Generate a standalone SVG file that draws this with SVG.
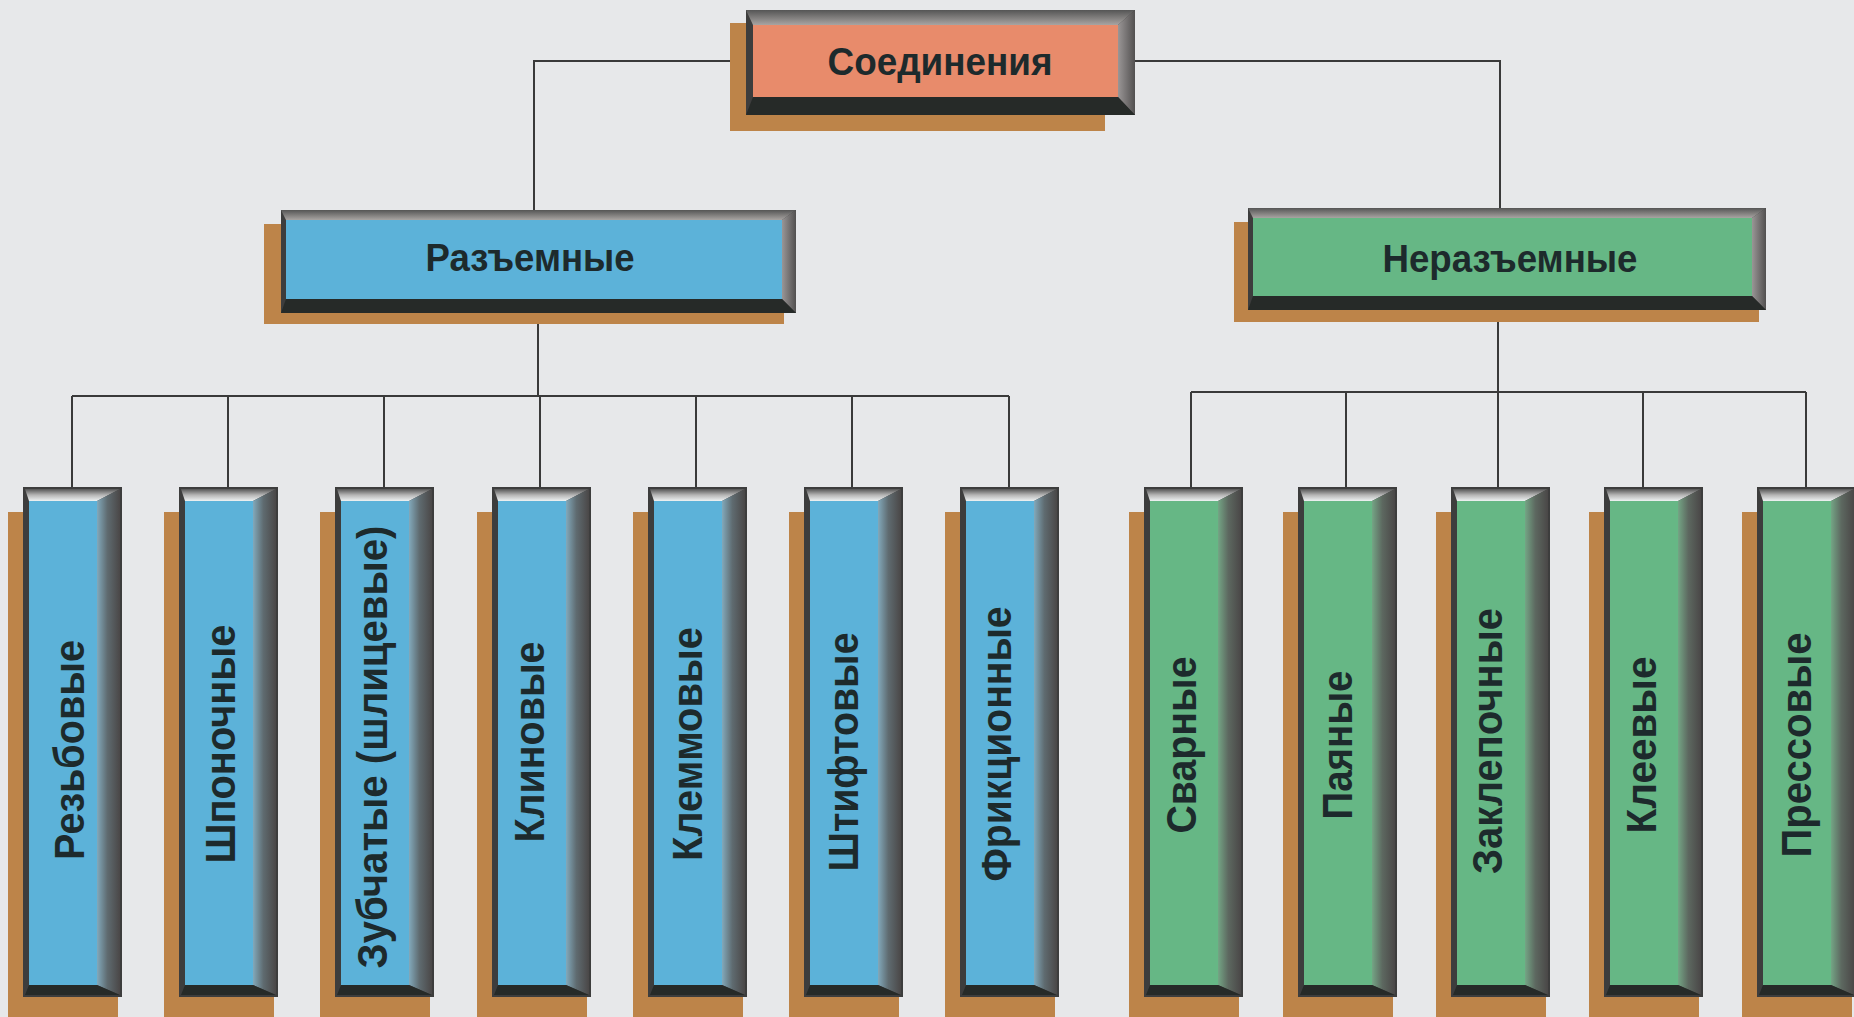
<svg xmlns="http://www.w3.org/2000/svg" width="1854" height="1017" viewBox="0 0 1854 1017">
<style>
.bg{fill:#e7e8ea}
.sh{fill:#bd8449}
.outer{fill:#3d3d3d}
.bot{fill:#262a28}
.fb{fill:#5cb2d9}
.fg{fill:#66b785}
.fo{fill:#e88b6b}
.tb{fill:url(#gTop)}
.rb{fill:url(#gRB)}
.rg{fill:url(#gRG)}
.rh{fill:url(#gRH)}
.th{fill:url(#gTH)}
.lbl{font-family:"Liberation Sans",Arial,sans-serif;font-weight:bold;fill:#1d2a2c;font-size:42px}
.hl{font-family:"Liberation Sans",Arial,sans-serif;font-weight:bold;fill:#1d2a2c;font-size:38px}
.conn{stroke:#3a3a3a;stroke-width:2;fill:none}
</style>
<defs>
<linearGradient id="gTop" x1="0" y1="0" x2="0" y2="1">
<stop offset="0" stop-color="#555"/><stop offset="0.5" stop-color="#b5b5b5"/><stop offset="1" stop-color="#eef2f3"/>
</linearGradient>
<linearGradient id="gTH" x1="0" y1="0" x2="0" y2="1">
<stop offset="0" stop-color="#555"/><stop offset="1" stop-color="#a8a4a2"/>
</linearGradient>
<linearGradient id="gRB" x1="0" y1="0" x2="1" y2="0">
<stop offset="0" stop-color="#82a9bb"/><stop offset="0.45" stop-color="#5f6b70"/><stop offset="1" stop-color="#4a4747"/>
</linearGradient>
<linearGradient id="gRG" x1="0" y1="0" x2="1" y2="0">
<stop offset="0" stop-color="#74a585"/><stop offset="0.45" stop-color="#5d6860"/><stop offset="1" stop-color="#4a4747"/>
</linearGradient>
<linearGradient id="gRH" x1="0" y1="0" x2="1" y2="0">
<stop offset="0" stop-color="#9a9696"/><stop offset="1" stop-color="#525050"/>
</linearGradient>
</defs>
<rect class="bg" x="0" y="0" width="1854" height="1017"/>

<g id="connectors">
<polyline class="conn" points="534,210 534,61 1500,61 1500,208"/>
<line class="conn" x1="538" y1="313" x2="538" y2="396"/>
<line class="conn" x1="72" y1="396" x2="1009" y2="396"/>
<line class="conn" x1="72" y1="396" x2="72" y2="488"/>
<line class="conn" x1="228" y1="396" x2="228" y2="488"/>
<line class="conn" x1="384" y1="396" x2="384" y2="488"/>
<line class="conn" x1="540" y1="396" x2="540" y2="488"/>
<line class="conn" x1="696" y1="396" x2="696" y2="488"/>
<line class="conn" x1="852" y1="396" x2="852" y2="488"/>
<line class="conn" x1="1009" y1="396" x2="1009" y2="488"/>
<line class="conn" x1="1498" y1="310" x2="1498" y2="392"/>
<line class="conn" x1="1191" y1="392" x2="1806" y2="392"/>
<line class="conn" x1="1191" y1="392" x2="1191" y2="488"/>
<line class="conn" x1="1346" y1="392" x2="1346" y2="488"/>
<line class="conn" x1="1498" y1="392" x2="1498" y2="488"/>
<line class="conn" x1="1643" y1="392" x2="1643" y2="488"/>
<line class="conn" x1="1806" y1="392" x2="1806" y2="488"/>
</g>

<g id="n-soed">
<rect class="sh" x="730" y="23" width="375" height="108"/>
<rect class="outer" x="746" y="10" width="389" height="105"/>
<polygon class="th" points="746,10 1135,10 1118,25 753,25"/>
<polygon class="rh" points="1118,25 1135,10 1135,115 1118,97"/>
<polygon class="bot" points="753,97 1118,97 1135,115 746,115"/>
<rect class="fo" x="753" y="25" width="365" height="72"/>
<text class="hl" x="940" y="75" text-anchor="middle" textLength="225" lengthAdjust="spacingAndGlyphs">Соединения</text>
</g>

<g id="n-razem">
<rect class="sh" x="264" y="224" width="520" height="100"/>
<rect class="outer" x="281" y="210" width="515" height="103"/>
<polygon class="th" points="281,210 796,210 782,220 286,220"/>
<polygon class="rh" points="782,220 796,210 796,313 782,299"/>
<polygon class="bot" points="286,299 782,299 796,313 281,313"/>
<rect class="fb" x="286" y="220" width="496" height="79"/>
<text class="hl" x="530" y="271" text-anchor="middle" textLength="209" lengthAdjust="spacingAndGlyphs">Разъемные</text>
</g>

<g id="n-nerazem">
<rect class="sh" x="1234" y="222" width="525" height="100"/>
<rect class="outer" x="1248" y="208" width="518" height="102"/>
<polygon class="th" points="1248,208 1766,208 1752,218 1253,218"/>
<polygon class="rh" points="1752,218 1766,208 1766,310 1752,296"/>
<polygon class="bot" points="1253,296 1752,296 1766,310 1248,310"/>
<rect class="fg" x="1253" y="218" width="499" height="78"/>
<text class="hl" x="1510" y="272" text-anchor="middle" textLength="255" lengthAdjust="spacingAndGlyphs">Неразъемные</text>
</g>

<g id="n-rezb" transform="translate(23,0)">
<rect class="sh" x="-15" y="512" width="110" height="520"/>
<rect class="outer" x="0" y="487" width="99" height="510"/>
<polygon class="tb" points="2,489 97,489 74,501 6,501"/>
<polygon class="rb" points="74,501 97,489 97,995 74,985"/>
<polygon class="bot" points="6,985 74,985 97,995 2,995"/>
<rect class="fb" x="6" y="501" width="68" height="484"/>
<text class="lbl" transform="translate(61,750) rotate(-90)" text-anchor="middle" textLength="220" lengthAdjust="spacingAndGlyphs">Резьбовые</text>
</g>

<g id="n-shpon" transform="translate(179,0)">
<rect class="sh" x="-15" y="512" width="110" height="520"/>
<rect class="outer" x="0" y="487" width="99" height="510"/>
<polygon class="tb" points="2,489 97,489 74,501 6,501"/>
<polygon class="rb" points="74,501 97,489 97,995 74,985"/>
<polygon class="bot" points="6,985 74,985 97,995 2,995"/>
<rect class="fb" x="6" y="501" width="68" height="484"/>
<text class="lbl" transform="translate(56,744) rotate(-90)" text-anchor="middle" textLength="239" lengthAdjust="spacingAndGlyphs">Шпоночные</text>
</g>

<g id="n-zub" transform="translate(335,0)">
<rect class="sh" x="-15" y="512" width="110" height="520"/>
<rect class="outer" x="0" y="487" width="99" height="510"/>
<polygon class="tb" points="2,489 97,489 74,501 6,501"/>
<polygon class="rb" points="74,501 97,489 97,995 74,985"/>
<polygon class="bot" points="6,985 74,985 97,995 2,995"/>
<rect class="fb" x="6" y="501" width="68" height="484"/>
<text class="lbl" transform="translate(52,747) rotate(-90)" text-anchor="middle" textLength="443" lengthAdjust="spacingAndGlyphs">Зубчатые (шлицевые)</text>
</g>

<g id="n-klin" transform="translate(492,0)">
<rect class="sh" x="-15" y="512" width="110" height="520"/>
<rect class="outer" x="0" y="487" width="99" height="510"/>
<polygon class="tb" points="2,489 97,489 74,501 6,501"/>
<polygon class="rb" points="74,501 97,489 97,995 74,985"/>
<polygon class="bot" points="6,985 74,985 97,995 2,995"/>
<rect class="fb" x="6" y="501" width="68" height="484"/>
<text class="lbl" transform="translate(52,742) rotate(-90)" text-anchor="middle" textLength="201" lengthAdjust="spacingAndGlyphs">Клиновые</text>
</g>

<g id="n-klem" transform="translate(648,0)">
<rect class="sh" x="-15" y="512" width="110" height="520"/>
<rect class="outer" x="0" y="487" width="99" height="510"/>
<polygon class="tb" points="2,489 97,489 74,501 6,501"/>
<polygon class="rb" points="74,501 97,489 97,995 74,985"/>
<polygon class="bot" points="6,985 74,985 97,995 2,995"/>
<rect class="fb" x="6" y="501" width="68" height="484"/>
<text class="lbl" transform="translate(54,744) rotate(-90)" text-anchor="middle" textLength="234" lengthAdjust="spacingAndGlyphs">Клеммовые</text>
</g>

<g id="n-shtift" transform="translate(804,0)">
<rect class="sh" x="-15" y="512" width="110" height="520"/>
<rect class="outer" x="0" y="487" width="99" height="510"/>
<polygon class="tb" points="2,489 97,489 74,501 6,501"/>
<polygon class="rb" points="74,501 97,489 97,995 74,985"/>
<polygon class="bot" points="6,985 74,985 97,995 2,995"/>
<rect class="fb" x="6" y="501" width="68" height="484"/>
<text class="lbl" transform="translate(54,752) rotate(-90)" text-anchor="middle" textLength="239" lengthAdjust="spacingAndGlyphs">Штифтовые</text>
</g>

<g id="n-frik" transform="translate(960,0)">
<rect class="sh" x="-15" y="512" width="110" height="520"/>
<rect class="outer" x="0" y="487" width="99" height="510"/>
<polygon class="tb" points="2,489 97,489 74,501 6,501"/>
<polygon class="rb" points="74,501 97,489 97,995 74,985"/>
<polygon class="bot" points="6,985 74,985 97,995 2,995"/>
<rect class="fb" x="6" y="501" width="68" height="484"/>
<text class="lbl" transform="translate(51,744) rotate(-90)" text-anchor="middle" textLength="275" lengthAdjust="spacingAndGlyphs">Фрикционные</text>
</g>

<g id="n-svar" transform="translate(1144,0)">
<rect class="sh" x="-15" y="512" width="110" height="520"/>
<rect class="outer" x="0" y="487" width="99" height="510"/>
<polygon class="tb" points="2,489 97,489 74,501 6,501"/>
<polygon class="rg" points="74,501 97,489 97,995 74,985"/>
<polygon class="bot" points="6,985 74,985 97,995 2,995"/>
<rect class="fg" x="6" y="501" width="68" height="484"/>
<text class="lbl" transform="translate(52,745) rotate(-90)" text-anchor="middle" textLength="177" lengthAdjust="spacingAndGlyphs">Сварные</text>
</g>

<g id="n-payan" transform="translate(1298,0)">
<rect class="sh" x="-15" y="512" width="110" height="520"/>
<rect class="outer" x="0" y="487" width="99" height="510"/>
<polygon class="tb" points="2,489 97,489 74,501 6,501"/>
<polygon class="rg" points="74,501 97,489 97,995 74,985"/>
<polygon class="bot" points="6,985 74,985 97,995 2,995"/>
<rect class="fg" x="6" y="501" width="68" height="484"/>
<text class="lbl" transform="translate(54,745) rotate(-90)" text-anchor="middle" textLength="149" lengthAdjust="spacingAndGlyphs">Паяные</text>
</g>

<g id="n-zaklep" transform="translate(1451,0)">
<rect class="sh" x="-15" y="512" width="110" height="520"/>
<rect class="outer" x="0" y="487" width="99" height="510"/>
<polygon class="tb" points="2,489 97,489 74,501 6,501"/>
<polygon class="rg" points="74,501 97,489 97,995 74,985"/>
<polygon class="bot" points="6,985 74,985 97,995 2,995"/>
<rect class="fg" x="6" y="501" width="68" height="484"/>
<text class="lbl" transform="translate(51,741) rotate(-90)" text-anchor="middle" textLength="266" lengthAdjust="spacingAndGlyphs">Заклепочные</text>
</g>

<g id="n-kleev" transform="translate(1604,0)">
<rect class="sh" x="-15" y="512" width="110" height="520"/>
<rect class="outer" x="0" y="487" width="99" height="510"/>
<polygon class="tb" points="2,489 97,489 74,501 6,501"/>
<polygon class="rg" points="74,501 97,489 97,995 74,985"/>
<polygon class="bot" points="6,985 74,985 97,995 2,995"/>
<rect class="fg" x="6" y="501" width="68" height="484"/>
<text class="lbl" transform="translate(52,745) rotate(-90)" text-anchor="middle" textLength="177" lengthAdjust="spacingAndGlyphs">Клеевые</text>
</g>

<g id="n-press" transform="translate(1757,0)">
<rect class="sh" x="-15" y="512" width="110" height="520"/>
<rect class="outer" x="0" y="487" width="99" height="510"/>
<polygon class="tb" points="2,489 97,489 74,501 6,501"/>
<polygon class="rg" points="74,501 97,489 97,995 74,985"/>
<polygon class="bot" points="6,985 74,985 97,995 2,995"/>
<rect class="fg" x="6" y="501" width="68" height="484"/>
<text class="lbl" transform="translate(54,745) rotate(-90)" text-anchor="middle" textLength="225" lengthAdjust="spacingAndGlyphs">Прессовые</text>
</g>
</svg>
